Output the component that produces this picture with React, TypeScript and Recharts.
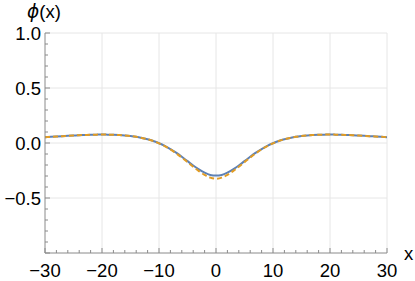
import React from 'react';
import { LineChart, Line, XAxis, YAxis, CartesianGrid } from 'recharts';

const xs = [-30,-29,-28,-27,-26,-25,-24,-23,-22,-21,-20,-19,-18,-17,-16,-15,-14,-13,-12,-11,-10,-9,-8,-7,-6,-5,-4,-3,-2,-1,0,1,2,3,4,5,6,7,8,9,10,11,12,13,14,15,16,17,18,19,20,21,22,23,24,25,26,27,28,29,30];

const phiSolid = [0.053,0.056,0.059,0.062,0.065,0.068,0.071,0.073,0.075,0.076,0.077,0.076,0.075,0.072,0.068,0.063,0.056,0.046,0.034,0.018,-0.002,-0.026,-0.055,-0.088,-0.125,-0.165,-0.205,-0.24,-0.27,-0.29,-0.295,-0.29,-0.27,-0.24,-0.205,-0.165,-0.125,-0.088,-0.055,-0.026,-0.002,0.018,0.034,0.046,0.056,0.063,0.068,0.072,0.075,0.076,0.077,0.076,0.075,0.073,0.071,0.068,0.065,0.062,0.059,0.056,0.053];

const phiDashed = [0.053,0.056,0.059,0.062,0.065,0.068,0.071,0.073,0.075,0.076,0.077,0.076,0.075,0.072,0.068,0.063,0.056,0.046,0.034,0.018,-0.003,-0.028,-0.058,-0.093,-0.132,-0.174,-0.216,-0.256,-0.29,-0.315,-0.325,-0.315,-0.29,-0.256,-0.216,-0.174,-0.132,-0.093,-0.058,-0.028,-0.003,0.018,0.034,0.046,0.056,0.063,0.068,0.072,0.075,0.076,0.077,0.076,0.075,0.073,0.071,0.068,0.065,0.062,0.059,0.056,0.053];

const xTicks = [-30,-28,-26,-24,-22,-20,-18,-16,-14,-12,-10,-8,-6,-4,-2,0,2,4,6,8,10,12,14,16,18,20,22,24,26,28,30];
const xMajor = [-30,-20,-10,0,10,20,30];
const xMajorLabels = ['\u221230','\u221220','\u221210','0','10','20','30'];
const xGrid = [-20,-10,0,10,20,30];

const yTicks = [-1,-0.9,-0.8,-0.7,-0.6,-0.5,-0.4,-0.3,-0.2,-0.1,0,0.1,0.2,0.3,0.4,0.5,0.6,0.7,0.8,0.9,1];
const yMajor = [-1,-0.5,0,0.5,1];
const yLabeled = [-0.5,0,0.5,1];
const yLabels = ['\u22120.5','0.0','0.5','1.0'];
const yGrid = [-0.5,0,0.5,1];

const data = xs.map((x, i) => ({ x, a: phiSolid[i], b: phiDashed[i] }));

const FONT = '"Liberation Sans", Arial, sans-serif';
const AXIS = '#8a8a8a';

const near = (arr: number[], v: number) => arr.findIndex(a => Math.abs(a - v) < 1e-6);

const XTick = (props: any) => {
  const { x, y, payload } = props;
  const mi = near(xMajor, payload.value);
  const len = mi >= 0 ? 5 : 3;
  return (
    <g>
      <line x1={x} x2={x} y1={y} y2={y - len} stroke={AXIS} strokeWidth={1} />
      {mi >= 0 && (
        <text x={x} y={y + 24} textAnchor="middle" fontSize={18.5} fontFamily={FONT} fill="#000">
          {xMajorLabels[mi]}
        </text>
      )}
    </g>
  );
};

const YTick = (props: any) => {
  const { x, y, payload } = props;
  const mi = near(yMajor, payload.value);
  const li = near(yLabeled, payload.value);
  const len = mi >= 0 ? 5 : 3;
  return (
    <g>
      <line x1={x} x2={x + len} y1={y} y2={y} stroke={AXIS} strokeWidth={1} />
      {li >= 0 && (
        <text x={x - 4} y={y + 7} textAnchor="end" fontSize={18.5} fontFamily={FONT} fill="#000">
          {yLabels[li]}
        </text>
      )}
    </g>
  );
};

export default function App() {
  return (
    <div style={{ position: 'absolute', left: 0, top: 0, background: '#fff' }}>
      <LineChart width={415} height={281} data={data} margin={{ top: 33, right: 28, bottom: 0, left: 0 }}>
        <CartesianGrid stroke="#e6e6e6" strokeWidth={1} horizontalValues={yGrid} verticalValues={xGrid} />
        <XAxis
          dataKey="x"
          type="number"
          domain={[-30, 30]}
          ticks={xTicks}
          interval={0}
          height={28}
          tickSize={0}
          tickMargin={0}
          tickLine={false}
          stroke={AXIS}
          tick={<XTick />}
          label={(p: any) => (
            <text x={404} y={260} fontSize={18.5} fontFamily={FONT} fill="#000">x</text>
          )}
        />
        <YAxis
          type="number"
          domain={[-1, 1]}
          ticks={yTicks}
          interval={0}
          width={45}
          tickSize={0}
          tickMargin={0}
          tickLine={false}
          stroke={AXIS}
          tick={<YTick />}
          label={(p: any) => (
            <text x={27} y={18} fontSize={18.5} fill="#000">
              <tspan fontStyle="italic" fontFamily='"DejaVu Sans", sans-serif'>{'\u03D5'}</tspan>
              <tspan fontFamily={FONT}>(x)</tspan>
            </text>
          )}
        />
        <Line type="monotone" dataKey="a" stroke="#5E81B5" strokeWidth={2} dot={false} isAnimationActive={false} />
        <Line type="monotone" dataKey="b" stroke="#E19C24" strokeWidth={2} strokeDasharray="5 3" dot={false} isAnimationActive={false} />
      </LineChart>
    </div>
  );
}
